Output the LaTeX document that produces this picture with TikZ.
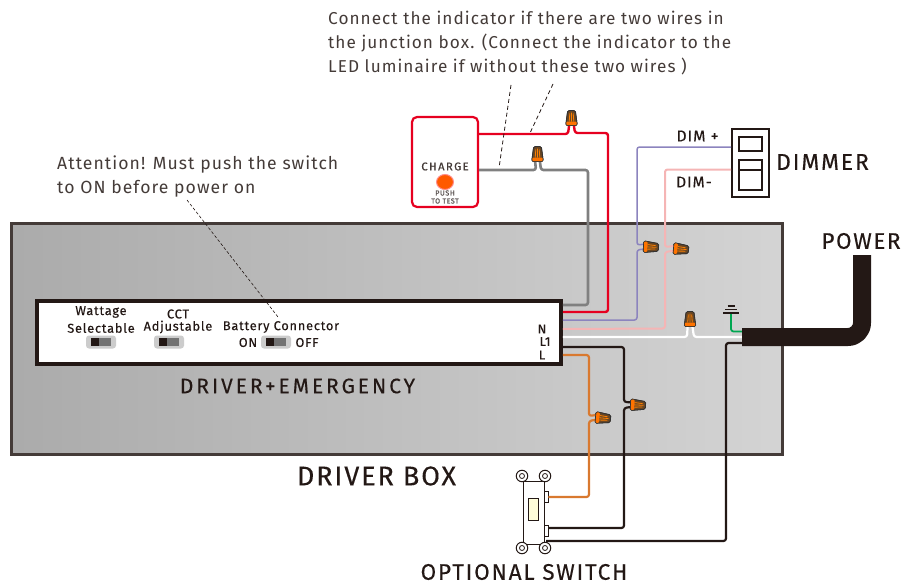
\documentclass[tikz,border=0pt]{standalone}
\usepackage{fontspec}
\usetikzlibrary{shapes.geometric}
\setmainfont{Fira Sans}[LetterSpace=6]
\newcommand{\headfont}[2]{\fontsize{#1}{#1}\selectfont\addfontfeature{LetterSpace=#2,FakeBold=0.25}}
\definecolor{ink}{HTML}{231815}
\definecolor{redw}{HTML}{E60020}
\definecolor{greyw}{HTML}{808080}
\definecolor{purplew}{HTML}{8C84BE}
\definecolor{pinkw}{HTML}{F5B5B5}
\definecolor{orangew}{HTML}{D9792F}
\definecolor{greenw}{HTML}{00A651}
\tikzset{
  wire/.style={rounded corners=2.5pt,line join=round},
  lead/.style={draw=ink,line width=0.8pt,dash pattern=on 4pt off 3pt},
  label/.style={inner sep=0pt,text=ink,align=center},
  note/.style={inner sep=0pt,text=ink!85,align=left,anchor=west},
  small/.style={label,font=\headfont{12.8}{6}},
  toggle/.pic={
    \fill[rounded corners=3pt,fill=black!20] (-15,-6.5) rectangle (15,6.5);
    \fill[black!55] (-10,-4) rectangle (10,4);
    \fill[ink] (-10,-4) rectangle (-2,4);
  },
  wirenut/.pic={
    \filldraw[draw=black!80,line width=0.8pt,fill=brown!55!black,rounded corners=1.5pt] (-3.8,-8.5) -- (3.8,-8.5) -- (5.8,6.5) -- (-5.8,6.5) -- cycle;
    \fill[orange!90!red,rounded corners=1pt] (-5.1,2.5) -- (5.1,2.5) -- (5.3,6) -- (-5.3,6) -- cycle;
    \draw[orange,line width=0.8pt] (-1.7,-5.5) -- (-2.3,2.5) (0,-6.5) -- (0,2.5) (1.7,-5.5) -- (2.3,2.5);
    \coordinate (-l) at (-2.4,6.5);
    \coordinate (-r) at (2.4,6.5);
  },
  screw/.style={circle,draw=ink,fill=white,line width=1pt,minimum size=11.5pt,inner sep=0pt},
  screwin/.style={circle,draw=ink,fill=white,line width=0.8pt,minimum size=5pt,inner sep=0pt},
  termbox/.style={draw=ink,fill=white,line width=0.9pt,minimum width=4pt,minimum height=11pt,inner sep=0pt},
}
\begin{document}
\begin{tikzpicture}[x=1pt,y=-1pt]
\useasboundingbox (0,0) rectangle (919,586);
% driver box
\node[draw=ink!85,line width=2.6pt,left color=black!33,right color=black!17,minimum width=771pt,minimum height=231pt,inner sep=0pt] (box) at (397,339) {};
\node[draw=ink,fill=white,line width=3.6pt,minimum width=524pt,minimum height=63pt,inner sep=0pt] (drv) at (299,332.5) {};
% coordinates on the driver edge
\coordinate (dg) at (drv.east |- 0,305);
\coordinate (dr) at (drv.east |- 0,312);
\coordinate (dp) at (drv.east |- 0,320);
\coordinate (dk) at (drv.east |- 0,329);
\coordinate (dw) at (drv.east |- 0,337);
\coordinate (db) at (drv.east |- 0,347);
\coordinate (do) at (drv.east |- 0,355);
% charge box
\node[draw=redw,fill=white,line width=2.2pt,rounded corners=5pt,minimum width=66pt,minimum height=90pt,inner sep=0pt] (charge) at (445,162) {};
\node[label,text=ink!85,font=\fontsize{11.2}{12}\selectfont\addfontfeature{LetterSpace=13,FakeBold=0.7}] (chargetxt) at (445,166.5) {CHARGE};
\node[ellipse,draw=red!45,fill=orange!70!red,line width=1pt,minimum width=17pt,minimum height=15pt,inner sep=0pt] (led) at (445,182) {};
\node[label,text=ink!75,font=\fontsize{7.2}{8}\selectfont\addfontfeature{LetterSpace=8,FakeBold=0.6}] (push) at (445,193) {PUSH};
\node[label,text=ink!75,font=\fontsize{7.2}{8}\selectfont\addfontfeature{LetterSpace=6,FakeBold=0.6}] (ttest) at (445,201) {TO TEST};
% dimmer
\node[draw=ink,fill=white,line width=1.8pt,minimum width=37pt,minimum height=68pt,inner sep=0pt] (dim) at (750.5,163) {};
\node[draw=ink,line width=1.6pt,minimum width=23pt,minimum height=14pt,inner sep=0pt] (dimtop) at (750.5,144) {};
\node[draw=ink,line width=1.6pt,minimum width=23pt,minimum height=30pt,inner sep=0pt] (dimlow) at (750.5,175) {};
\draw[ink,line width=1.4pt] (dimlow.west |- 0,170) -- (dimlow.east |- 0,170);
% switch
\node[draw=ink,fill=white,line width=1pt,minimum width=21pt,minimum height=63pt,inner sep=0pt] (sw) at (533.5,512.5) {};
\node[draw=ink,fill=yellow!15,line width=0.7pt,minimum width=10pt,minimum height=22pt,inner sep=0pt] (lever) at (533.5,509) {};
\foreach \n/\px/\py in {a/522/476,b/545/476,c/522/548,d/545/548}{
  \node[screw] (scr\n) at (\px,\py) {};
  \node[screwin] at (scr\n) {};
}
\node[termbox] (t1) at (546,497) {};
\node[termbox] (t2) at (546,531) {};
\coordinate (t3) at (546,541);
% nuts
\coordinate (pwr) at (742,337);
\coordinate (pwrg) at (742,331.5);
\coordinate (pwrb) at (742,343);
\coordinate (gnd) at (731,314);
\pic (nr) at (571.5,119) {wirenut};
\pic (ng) at (537.5,155) {wirenut};
\pic (np) at (650,247) [rotate=-93] {wirenut};
\pic (nk) at (680,249) [rotate=-95] {wirenut};
\pic (nw) at (690,320) {wirenut};
\pic (nb) at (637,405) [rotate=-93] {wirenut};
\pic (no) at (602,418) [rotate=-95] {wirenut};
% wires
\draw[wire,greyw,line width=2.6pt] (charge.east |- 0,170) -- (536,170) -- (ng-l);
\draw[wire,greyw,line width=2.6pt] (ng-r) -- (541,170) -- (588,170) -- (588,305) -- (dg);
\draw[wire,redw,line width=2.4pt] (charge.east |- 0,134) -- (568,134) -- (nr-l);
\draw[wire,redw,line width=2.4pt] (nr-r) -- (575,133) -- (608,133) -- (608,312) -- (dr);
\draw[wire,purplew,line width=1.5pt] (dim.west |- 0,147) -- (637,147) -- (637,245) -- (np-l);
\draw[wire,purplew,line width=1.5pt] (np-r) -- (637,250) -- (637,320) -- (dp);
\draw[wire,pinkw,line width=2pt] (dim.west |- 0,169.5) -- (665,169.5) -- (665,247) -- (nk-l);
\draw[wire,pinkw,line width=2pt] (nk-r) -- (665,252) -- (665,328.5) -- (dk);
\draw[wire,white,line width=2.2pt] (dw) -- (687,337) -- (nw-l);
\draw[wire,white,line width=2.2pt] (nw-r) -- (694,337) -- (pwr);
\draw[wire,greenw,line width=1.8pt] (gnd) -- (731,331.5) -- (pwrg);
\draw[wire,ink,line width=2.2pt] (pwrb) -- (726,343) -- (726,541) -- (t3);
\draw[wire,ink,line width=2.2pt] (db) -- (624,347) -- (624,402) -- (nb-l);
\draw[wire,ink,line width=2.2pt] (nb-r) -- (624,408) -- (624,528) -- (t2.east |- 0,528);
\draw[wire,orangew,line width=2.2pt] (do) -- (589,355) -- (589,416) -- (no-l);
\draw[wire,orangew,line width=2.2pt] (no-r) -- (589,421) -- (589,497) -- (t1.east);
% redraw nuts above the wires
\pic at (571.5,119) {wirenut};
\pic at (537.5,155) {wirenut};
\pic at (650,247) [rotate=-93] {wirenut};
\pic at (680,249) [rotate=-95] {wirenut};
\pic at (690,320) {wirenut};
\pic at (637,405) [rotate=-93] {wirenut};
\pic at (602,418) [rotate=-95] {wirenut};
% ground symbol
\draw[ink,line width=1.2pt] (727.5,306) -- (734.5,306) (725,309.5) -- (737,309.5) (723,313) -- (739,313);
% power cable
\draw[ink,line width=18pt,line join=round] (pwr) -- (848,337) arc[start angle=90,end angle=0,radius=14] -- (862,255);
% leaders
\coordinate (la) at (511,85);
\coordinate (lb) at (499,168);
\coordinate (lc) at (553,84);
\coordinate (ld) at (530,133);
\coordinate (le) at (187,200);
\coordinate (lf) at (278,317);
\draw[lead] (la) -- (lb);
\draw[lead] (lc) -- (ld);
\draw[lead,line width=0.6pt,dash pattern=on 3pt off 2pt] (le) -- (lf);
% texts
\node[note,font=\fontsize{17.2}{24}\selectfont] (topnote) at (328,43) {Connect the indicator if there are two wires in\\the junction box. (Connect the indicator to the\\LED luminaire if without these two wires )};
\node[note,font=\fontsize{17.6}{23.5}\selectfont] (attn) at (57,176.5) {Attention! Must push the switch\\to ON before power on};
\node[label,font=\headfont{15.8}{6}] (dp1) at (697.5,136) {DIM +};
\node[label,font=\headfont{15.5}{6}] (dm1) at (694,182) {DIM-};
\node[label,font=\headfont{23}{8}] (dimtxt) at (822.5,162) {DIMMER};
\node[label,font=\headfont{22.5}{7}] (powtxt) at (861,241) {POWER};
\node[label,font=\headfont{21}{14}] (drvtxt) at (297.5,386) {DRIVER+EMERGENCY};
\node[label,font=\headfont{27}{7}] (boxtxt) at (376.5,476) {DRIVER BOX};
\node[label,font=\headfont{22.5}{8}] (swtxt) at (524,572) {OPTIONAL SWITCH};
\node[small] (w1) at (101,312) {Wattage};
\node[small] (w2) at (101,328) {Selectable};
\node[small] (c1) at (178,314) {CCT};
\node[small] (c2) at (178,327) {Adjustable};
\node[small] (b1) at (281,327) {Battery Connector};
\node[small] (on) at (248,342.5) {ON};
\node[small] (off) at (307,342.5) {OFF};
\pic at (101,342) {toggle};
\pic at (169,342) {toggle};
\pic at (276,342) {toggle};
\node[label,font=\headfont{13}{4}] (tn) at (542,329) {N};
\node[label,font=\headfont{13}{4}] (tl1) at (545,341.5) {L1};
\node[label,font=\headfont{13}{4}] (tl) at (542,355) {L};
\end{tikzpicture}
\end{document}
